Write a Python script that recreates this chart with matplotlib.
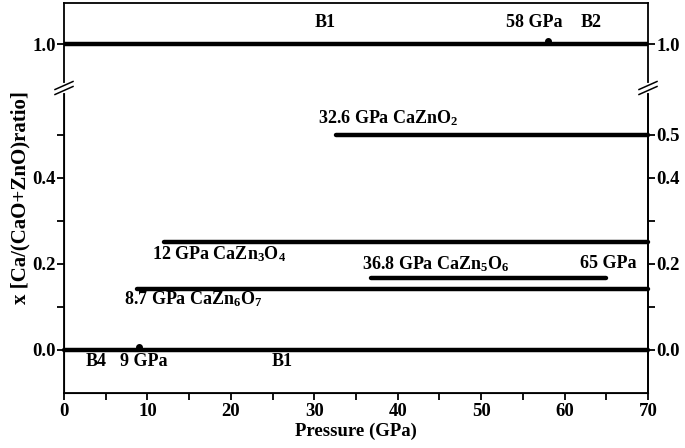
import matplotlib
matplotlib.use('Agg')
import matplotlib.pyplot as plt
import matplotlib.transforms as mtransforms
from matplotlib.lines import Line2D

plt.rcParams['font.family'] = 'Liberation Serif'
plt.rcParams['font.weight'] = 'bold'
plt.rcParams['axes.labelweight'] = 'bold'
plt.rcParams['mathtext.fontset'] = 'custom'
plt.rcParams['mathtext.rm'] = 'Liberation Serif:bold'
plt.rcParams['mathtext.it'] = 'Liberation Serif:bold'
plt.rcParams['mathtext.bf'] = 'Liberation Serif:bold'

# phase lines: start pressure, end pressure, composition x
p_start = [0, 8.7, 36.8, 12, 32.6]
p_end = [70, 70, 65, 70, 70]
x_ratio = [0.0, 1 / 7, 1 / 6, 1 / 4, 1 / 2]

# pure CaO line (upper panel)
cao_start = [0]
cao_end = [70]
cao_x = [1.0]

# B4->B1 and B1->B2 transitions
trans_low_p = [9]
trans_low_x = [0.0]
trans_high_p = [58]
trans_high_x = [1.0]

W, H = 685, 448
fig = plt.figure(figsize=(W / 100, H / 100), dpi=100)

x0, x1 = 64, 648
y_top, y_brk, y_bot = 3, 88, 393
ax_hi = fig.add_axes([x0 / W, 1 - y_brk / H, (x1 - x0) / W, (y_brk - y_top) / H])
ax_lo = fig.add_axes([x0 / W, 1 - y_bot / H, (x1 - x0) / W, (y_bot - y_brk) / H])

lw = 3.2
for s, e, x in zip(p_start, p_end, x_ratio):
    ax_lo.plot([s, e], [x, x], color='black', lw=lw, solid_capstyle='round', clip_on=False)
for s, e, x in zip(cao_start, cao_end, cao_x):
    ax_hi.plot([s, e], [x, x], color='black', lw=lw, solid_capstyle='butt', clip_on=False)

up = mtransforms.ScaledTranslation(0, 2.5 / 72, fig.dpi_scale_trans)
ax_lo.plot(trans_low_p, trans_low_x, 'o', color='black', ms=4, transform=ax_lo.transData + up)
ax_hi.plot(trans_high_p, trans_high_x, 'o', color='black', ms=4, transform=ax_hi.transData + up)

for ax in (ax_lo, ax_hi):
    ax.set_xlim(0, 70)
    for sp in ax.spines.values():
        sp.set_linewidth(1.3)

ax_lo.set_ylim(-0.1, 0.609)
ax_hi.set_ylim(0.9, 1.094)
ax_lo.spines['top'].set_visible(False)
ax_hi.spines['bottom'].set_visible(False)
ax_hi.set_xticks([])

tfs = 13.5
ax_lo.set_xticks(range(0, 71, 10))
ax_lo.set_xticks(range(5, 70, 10), minor=True)
ax_lo.set_yticks([0.0, 0.2, 0.4])
ax_lo.set_yticks([0.1, 0.3, 0.5], minor=True)
ax_lo.tick_params(which='both', direction='out', length=5, width=1.3, labelsize=tfs)
ax_lo.tick_params(axis='x', pad=2)
ax_lo.tick_params(axis='y', pad=1)
ax_lo.set_yticklabels(['0.0', '0.2', '0.4'])

ax_r = ax_lo.twinx()
ax_r.set_ylim(ax_lo.get_ylim())
ax_r.spines['top'].set_visible(False)
ax_r.spines['right'].set_linewidth(1.3)
ax_r.set_yticks([0.0, 0.2, 0.4, 0.5])
ax_r.set_yticklabels(['0.0', '0.2', '0.4', '0.5'])
ax_r.set_yticks([0.1, 0.3], minor=True)
ax_r.tick_params(which='both', direction='out', length=5, width=1.3, labelsize=tfs, pad=1)

ax_hi.set_yticks([1.0])
ax_hi.set_yticklabels(['1.0'])
ax_hi.tick_params(axis='y', direction='out', length=5, width=1.3, labelsize=tfs,
                  right=True, labelright=True, pad=1)

ax_lo.set_xlabel('Pressure (GPa)', fontsize=13.5, labelpad=2)
fig.text(20 / W, 1 - ((y_top + y_bot) / 2) / H, 'x [Ca/(CaO+ZnO)ratio]', fontsize=15,
         fontweight='bold', rotation=90, ha='center', va='center')

# annotations
fs = 13
ax_hi.text(31.3, 1.03, 'B1', fontsize=fs, ha='center', va='bottom')
ax_hi.text(56.4, 1.03, '58 GPa', fontsize=fs, ha='center', va='bottom')
ax_hi.text(63.2, 1.03, 'B2', fontsize=fs, ha='center', va='bottom')

ax_lo.text(30.5, 0.54, '32.6 GPa CaZnO$_{2}$', fontsize=fs, ha='left', va='center')
ax_lo.text(10.6, 0.223, '12 GPa CaZn$_{3}$O$_{4}$', fontsize=fs, ha='left', va='center')
ax_lo.text(35.7, 0.200, '36.8 GPa CaZn$_{5}$O$_{6}$', fontsize=fs, ha='left', va='center')
ax_lo.text(68.6, 0.200, '65 GPa', fontsize=fs, ha='right', va='center')
ax_lo.text(7.2, 0.119, '8.7 GPa CaZn$_{6}$O$_{7}$', fontsize=fs, ha='left', va='center')
ax_lo.text(3.9, -0.027, 'B4', fontsize=fs, ha='center', va='center')
ax_lo.text(9.5, -0.027, '9 GPa', fontsize=fs, ha='center', va='center')
ax_lo.text(26.1, -0.027, 'B1', fontsize=fs, ha='center', va='center')


# axis break marks
def brk(xp, yp):
    fig.add_artist(Line2D([xp / W, xp / W], [1 - (yp - 3) / H, 1 - (yp + 3) / H],
                          color='white', lw=3))
    for dy in (-2.5, 2.5):
        fig.add_artist(Line2D([(xp - 9) / W, (xp + 9) / W],
                              [1 - (yp + dy + 4) / H, 1 - (yp + dy - 4) / H],
                              color='black', lw=1.1))


brk(x0, y_brk)
brk(x1, y_brk)

fig.savefig('out.png', dpi=100)
